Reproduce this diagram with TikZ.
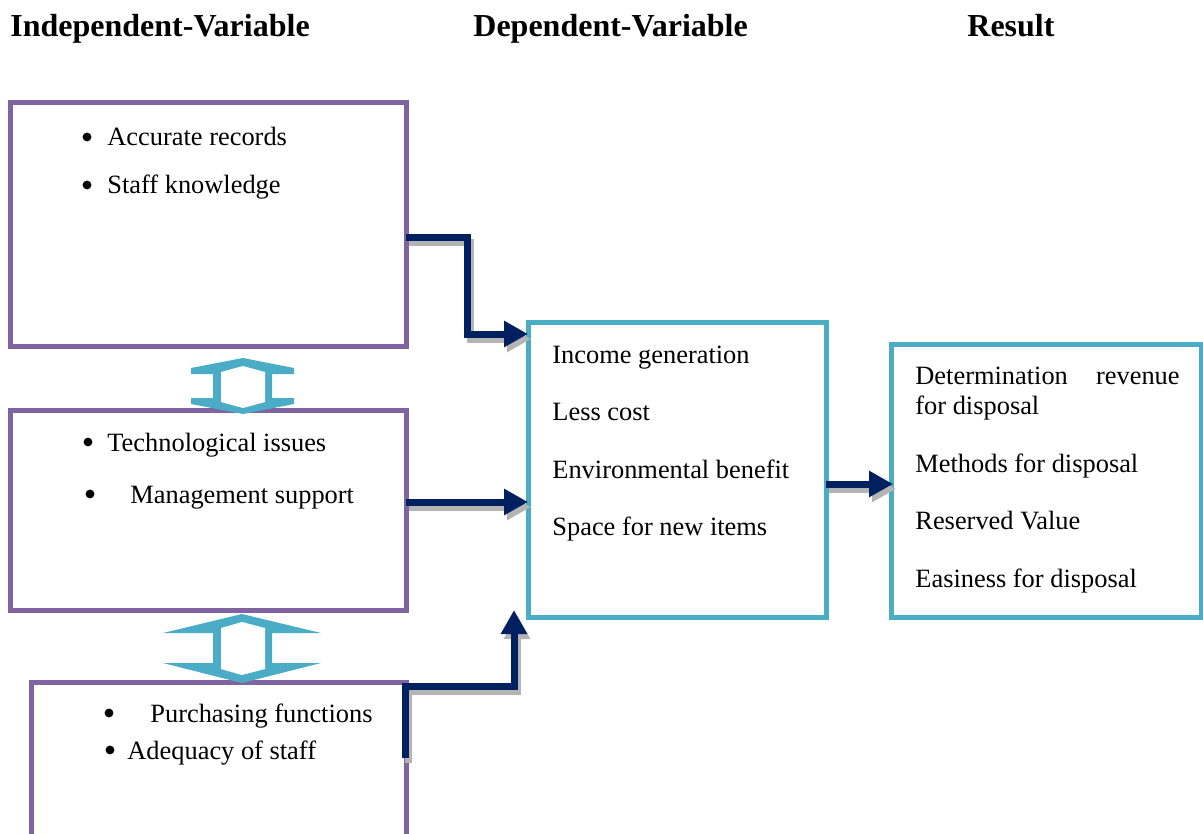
\documentclass[tikz,border=0pt]{standalone}
\usepackage{fontspec}
\setmainfont{Liberation Serif}
\usetikzlibrary{arrows.meta}

\definecolor{ivpurple}{HTML}{8064A2}
\definecolor{dvteal}{HTML}{4BACC6}
\definecolor{flownavy}{HTML}{002060}
\definecolor{flowshade}{HTML}{B4B4B4}

\tikzset{
  ivbox/.style={draw=ivpurple, line width=2.5pt},
  dvbox/.style={draw=dvteal, line width=2.5pt},
  flow/.style={line width=3.5pt, line join=miter, -{Triangle[length=12pt,width=12.5pt]}},
  coltitle/.style={anchor=base west, inner sep=0pt, font=\fontsize{16}{19}\selectfont\bfseries},
  entry/.style={anchor=base west, inner sep=0pt, font=\fontsize{13.2}{16}\selectfont},
  dot/.style={circle, fill=black, inner sep=0pt, minimum size=4.4pt},
}

% the four connectors, drawn twice (shadow, then arrow)
\newcommand\flowpaths[1]{%
  \draw[flow, draw=#1] (accout) -- ++(61,0) |- (dvin1);
  \draw[flow, draw=#1] (techout) -- (dvin2);
  \draw[flow, draw=#1] (purout) -- ++(0,-72) -| (dvin3);
  \draw[flow, draw=#1] (dvout) -- (resin);
}

\begin{document}
\begin{tikzpicture}[x=0.5pt, y=-0.5pt]
    \useasboundingbox (0,0) rectangle (1203,834);
    \clip (0,0) rectangle (1203,834);

    % column titles
    \node[coltitle] (tind) at (10,37) {Independent-Variable};
    \node[coltitle] (tdep) at (473,37) {Dependent-Variable};
    \node[coltitle] (tres) at (967,37) {Result};

    % boxes
    \draw[ivbox] (10,103) rectangle (406,346);
    \draw[ivbox] (10,410) rectangle (406,610);
    \draw[ivbox] (31,682) rectangle (406,850);
    \draw[dvbox] (528,322) rectangle (826,617);
    \draw[dvbox] (891,344) rectangle (1201,617);

    % independent variables
    \node[dot] (d1) at (87,137) {};
    \node[entry] (acc) at (107,146) {Accurate records};
    \node[dot] (d2) at (87,185) {};
    \node[entry] (staff) at (107,194) {Staff knowledge};
    \node[dot] (d3) at (88,442) {};
    \node[entry] (tech) at (107,451) {Technological issues};
    \node[dot] (d4) at (90,494) {};
    \node[entry] (mgmt) at (130,503) {Management support};
    \node[dot] (d5) at (109,713) {};
    \node[entry] (purch) at (150,722) {Purchasing functions};
    \node[dot] (d6) at (110,750) {};
    \node[entry] (adeq) at (127,759) {Adequacy of staff};

    % dependent variable
    \node[entry] (inc) at (552,363) {Income generation};
    \node[entry] (cost) at (552,420) {Less cost};
    \node[entry] (env) at (552,478) {Environmental benefit};
    \node[entry] (space) at (552,535) {Space for new items};

    % result
    \node[entry] (det) at (915,384) {Determination};
    \node[entry, anchor=base east] (rev) at (1180,384) {revenue};
    \node[entry] (fdis) at (915,414) {for disposal};
    \node[entry] (meth) at (915,472) {Methods for disposal};
    \node[entry] (resv) at (915,529) {Reserved Value};
    \node[entry] (eas) at (915,587) {Easiness for disposal};

    % connector ends
    \coordinate (accout) at (406,237);
    \coordinate (dvin1) at (528,334);
    \coordinate (techout) at (406,502);
    \coordinate (dvin2) at (528,502);
    \coordinate (purout) at (405,758);
    \coordinate (dvin3) at (514,610);
    \coordinate (dvout) at (826,484);
    \coordinate (resin) at (893,484);

    \begin{scope}[transform canvas={shift={(3,5)}}]
        \flowpaths{flowshade}
    \end{scope}
    \flowpaths{flownavy}

    % two-way links between the independent variables
    \fill[dvteal] (243,358) -- (191,368) -- (191,374) -- (213,374) -- (213,398)
        -- (191,398) -- (191,404) -- (243,414) -- (294,404) -- (294,398)
        -- (272,398) -- (272,374) -- (294,374) -- (294,368) -- cycle;
    \fill[white] (243,366) -- (221,372) -- (221,402) -- (243,408)
        -- (265,402) -- (265,372) -- cycle;

    \fill[dvteal] (242,614) -- (163,633) -- (213,633) -- (213,663)
        -- (163,663) -- (242,683) -- (321,663) -- (272,663)
        -- (272,633) -- (321,633) -- cycle;
    \fill[white] (242,622) -- (221,628) -- (221,669) -- (242,675)
        -- (265,669) -- (265,628) -- cycle;
\end{tikzpicture}
\end{document}
